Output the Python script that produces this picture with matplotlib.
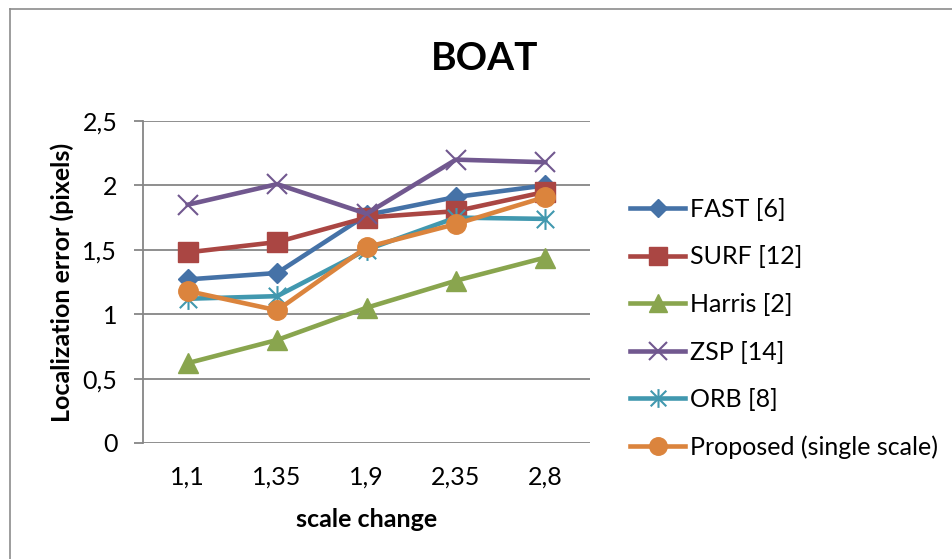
import matplotlib
matplotlib.use("Agg")
import matplotlib.pyplot as plt
from matplotlib.lines import Line2D
from matplotlib.path import Path

plt.rcParams['font.family'] = ['Lato', 'DejaVu Sans']

# scale change steps and localization error per detector
scales = ["1,1", "1,35", "1,9", "2,35", "2,8"]
fast = [1.27, 1.32, 1.77, 1.91, 2.00]
surf = [1.48, 1.56, 1.75, 1.80, 1.95]
harris = [0.62, 0.80, 1.05, 1.26, 1.44]
zsp = [1.85, 2.01, 1.78, 2.20, 2.18]
orb = [1.12, 1.14, 1.50, 1.75, 1.74]
proposed = [1.18, 1.03, 1.52, 1.70, 1.91]

y_ticks = [0, 0.5, 1, 1.5, 2, 2.5]
y_labels = ["0", "0,5", "1", "1,5", "2", "2,5"]

# asterisk marker: an x crossed by a vertical stroke
star = Path([(-1, -1), (1, 1), (-1, 1), (1, -1), (0, -1.2), (0, 1.2)],
            [Path.MOVETO, Path.LINETO, Path.MOVETO, Path.LINETO, Path.MOVETO, Path.LINETO])

series = [
    ("FAST [6]", fast, "#4572A7", dict(marker="D", markersize=10)),
    ("SURF [12]", surf, "#AA4643", dict(marker="s", markersize=14)),
    ("Harris [2]", harris, "#89A54E", dict(marker="^", markersize=15)),
    ("ZSP [14]", zsp, "#71588F", dict(marker="x", markersize=14, markeredgewidth=1.5)),
    ("ORB [8]", orb, "#4198AF", dict(marker=star, markersize=15, markeredgewidth=1.5)),
    ("Proposed (single scale)", proposed, "#DB843D", dict(marker="o", markersize=14)),
]

fs = 18

fig = plt.figure(figsize=(9.52, 5.59), dpi=100)
ax = fig.add_axes([143 / 952, 1 - 443 / 559, (590 - 143) / 952, (443 - 121) / 559])

x = list(range(len(scales)))
for name, vals, color, mk in series:
    ax.plot(x, vals, color=color, linewidth=3.3, label=name,
            markerfacecolor=color, markeredgecolor=color, **mk)

ax.set_xlim(-0.5, len(scales) - 0.5)
ax.set_ylim(0, 2.5)
ax.set_yticks(y_ticks)
ax.set_yticklabels(y_labels)
ax.set_xticks(x)
ax.set_xticklabels(scales)

ax.grid(axis="y", color="#868686", linewidth=1.3)
ax.set_axisbelow(True)
for s in ["top", "right", "bottom"]:
    ax.spines[s].set_visible(False)
ax.spines["left"].set_color("#868686")
ax.spines["left"].set_linewidth(1.3)
ax.tick_params(axis="y", length=6.5, width=1.3, color="#868686", labelsize=fs, pad=12)
ax.tick_params(axis="x", length=0, labelsize=fs, pad=16)

ax.set_ylabel("Localization error (pixels)", fontsize=fs, fontweight="bold")
ax.yaxis.set_label_coords((62 - 143) / 447, 0.5)
ax.yaxis.label.set_verticalalignment("center")
ax.set_xlabel("scale change", fontsize=fs, fontweight="bold", labelpad=14)
fig.text(485 / 952, 1 - 59 / 559, "BOAT", fontsize=28, fontweight="bold",
         ha="center", va="center")

ax.legend(loc="upper left", bbox_to_anchor=(630 / 952, 1 - 198 / 559),
          bbox_transform=fig.transFigure, frameon=False, fontsize=fs,
          handlelength=2.2, handletextpad=0.2, labelspacing=0.98,
          borderpad=0, borderaxespad=0, markerscale=0.9)

# chart frame (top and left edges)
fig.add_artist(Line2D([10 / 952, 10 / 952], [0, 1 - 9 / 559], color="#8C8C8C",
                      linewidth=1.2, transform=fig.transFigure))
fig.add_artist(Line2D([10 / 952, 1], [1 - 9 / 559, 1 - 9 / 559], color="#8C8C8C",
                      linewidth=1.2, transform=fig.transFigure))

fig.savefig("out.png", dpi=100)
